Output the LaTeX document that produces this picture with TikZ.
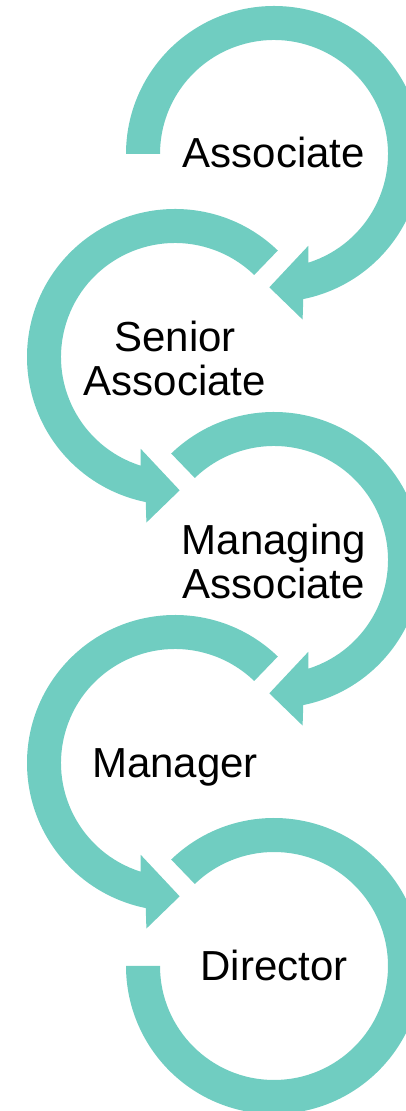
\documentclass[tikz,border=0pt]{standalone}
\usepackage{fontspec}
\setmainfont{Liberation Sans}
\usetikzlibrary{calc}
\definecolor{bandteal}{RGB}{112,205,193}
\newcommand{\cwBand}[2]{%
  \fill[bandfill,shift={(#1)}] (#2:148) arc[start angle=#2,end angle=-78.6,radius=148pt]
    -- (-80.2:168) -- (-92:133.4) -- (-69.5:98) -- (-72.4:114)
    arc[start angle=-72.4,end angle=#2,radius=114pt] -- cycle;}
\newcommand{\ccwBand}[2]{%
  \fill[bandfill,shift={(#1)}] (#2:148) arc[start angle=#2,end angle=258.6,radius=148pt]
    -- (260.2:168) -- (272:133.4) -- (249.5:98) -- (252.4:114)
    arc[start angle=252.4,end angle=#2,radius=114pt] -- cycle;}
\begin{document}
\begin{tikzpicture}[x=1pt,y=1pt,
  bandfill/.style={fill=bandteal},
  stagetext/.style={font=\fontsize{42}{44}\selectfont, inner sep=0pt, align=center, text=black}]
\useasboundingbox (0,0) rectangle (406,1111);
\clip (0,0) rectangle (406,1111);
\coordinate (c1) at (274,957);
\coordinate (c2) at (175,754);
\coordinate (c3) at (274,551);
\coordinate (c4) at (175,348);
\coordinate (c5) at (274,145);
% bands with arrowheads
\cwBand{c1}{180}
\ccwBand{c2}{46}
\cwBand{c3}{134}
\ccwBand{c4}{46}
\fill[bandfill,shift={(c5)}] (134:148) arc[start angle=134,end angle=-180,radius=148pt]
  -- (180:114) arc[start angle=-180,end angle=134,radius=114pt] -- cycle;
% labels
\node[stagetext,anchor=base] (t1) at ($(c1)+(0,-14)$) {Associate};
\node[stagetext] (t2) at ($(c2)+(0,-1)$) {Senior\\Associate};
\node[stagetext] (t3) at ($(c3)+(0,-1)$) {Managing\\Associate};
\node[stagetext,anchor=base] (t4) at ($(c4)+(0,-15)$) {Manager};
\node[stagetext,anchor=base] (t5) at ($(c5)+(0,-15)$) {Director};
\end{tikzpicture}
\end{document}
